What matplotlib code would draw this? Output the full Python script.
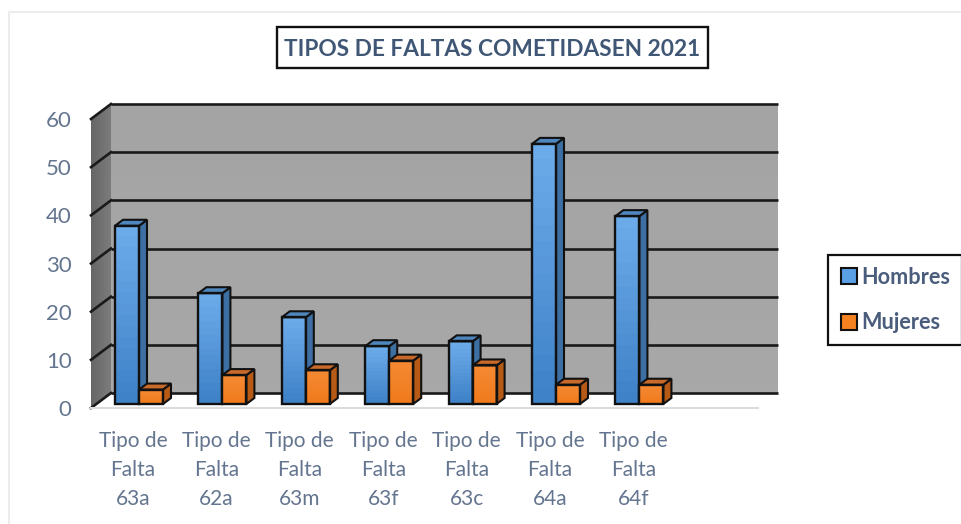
import numpy as np
import matplotlib
matplotlib.use('Agg')
import matplotlib.pyplot as plt
from matplotlib.patches import Polygon, Rectangle
from matplotlib.lines import Line2D
from matplotlib.colors import LinearSegmentedColormap

plt.rcParams['font.family'] = ['Lato', 'DejaVu Sans']

categorias = ['Tipo de\nFalta\n63a', 'Tipo de\nFalta\n62a', 'Tipo de\nFalta\n63m', 'Tipo de\nFalta\n63f',
              'Tipo de\nFalta\n63c', 'Tipo de\nFalta\n64a', 'Tipo de\nFalta\n64f']
hombres = [37, 23, 18, 12, 13, 54, 39]
mujeres = [3, 6, 7, 9, 8, 4, 4]
y_ticks = [0, 10, 20, 30, 40, 50, 60]
titulo = 'TIPOS DE FALTAS COMETIDASEN 2021'

W, H = 962, 524
TEXTO = '#64758f'

fig = plt.figure(figsize=(W / 100, H / 100), dpi=100)
# axes covers the front edge of the 3d box, x in group units
ax = fig.add_axes([91 / W, (H - 408) / H, 667 / W, 289 / H])
px_x = 83.4
py = 289 / 60
ax.patch.set_visible(False)
for s in ax.spines.values():
    s.set_visible(False)


def dx(p):
    return p / px_x


def dy(p):
    return p / py


# walls
x0 = -(139 - 91) / px_x
x_back = x0 + dx(20)
x_end = x0 + dx(687)
wall_up = dy(15)
ax.imshow(np.linspace(0, 1, 32).reshape(-1, 1), extent=(x_back, x_end, wall_up, 60 + wall_up), aspect='auto',
          cmap=LinearSegmentedColormap.from_list('w', ['#a4a4a4', '#a8a8a8']), zorder=1, clip_on=False)
lado = ax.imshow(np.linspace(0, 1, 32).reshape(1, -1), extent=(x0, x_back, 0, 60 + wall_up), aspect='auto',
                 cmap=LinearSegmentedColormap.from_list('s', ['#666666', '#7c7c7c']), zorder=1)
ax.set_xlim(x0, (758 - 139) / px_x)
ax.set_ylim(0, 60)
lado.set_clip_on(True)
lado.set_clip_box(fig.bbox)
lado.set_clip_path(Polygon([(x0, 0), (x_back, wall_up), (x_back, 60 + wall_up), (x0, 60)], transform=ax.transData))

for t in y_ticks:
    ax.plot([x_back, x_end], [t + wall_up, t + wall_up], color='#1a1a1a', lw=1.9, zorder=2, clip_on=False, solid_capstyle='butt')
    ax.plot([x0, x_back], [t, t + wall_up], color='#1a1a1a', lw=1.9, zorder=2, clip_on=False)
ax.plot([x0, x_end - dx(20)], [0, 0], color='#dcdcdc', lw=1.5, zorder=2, clip_on=False)


def barra(x, v, ancho, arriba, abajo, lado_c, tope_c, z):
    base = dy(4)
    ddx, ddy = dx(8), dy(6)
    izq, der = x, x + ancho
    cm = LinearSegmentedColormap.from_list('b', [abajo, arriba])
    ax.imshow(np.linspace(0, 1, 16).reshape(-1, 1), origin='lower', extent=(izq, der, base, base + v), aspect='auto', cmap=cm, zorder=z)
    ax.add_patch(Rectangle((izq, base), ancho, v, fill=False, ec='#111111', lw=1.7, zorder=z + 0.2))
    ax.add_patch(Polygon([(der, base), (der + ddx, base + ddy), (der + ddx, base + v + ddy), (der, base + v)], fc=lado_c, ec='#111111', lw=1.5, zorder=z + 0.1))
    ax.add_patch(Polygon([(izq, base + v), (der, base + v), (der + ddx, base + v + ddy), (izq + ddx, base + v + ddy)], fc=tope_c, ec='#111111', lw=1.5, zorder=z + 0.1))


ancho = 24 / px_x
for i in range(len(categorias)):
    barra(i - ancho, hombres[i], ancho, '#6cabea', '#3f82c8', '#3d6fa3', '#4f86bd', 3)
    barra(i, mujeres[i], ancho, '#f58a34', '#f07a1c', '#b65a16', '#c9692a', 4)
ax.set_xlim(x0, (758 - 139) / px_x)
ax.set_ylim(0, 60)

ax.set_xticks([i - dx(6) for i in range(len(categorias))])
ax.set_xticklabels(categorias)
ax.set_yticks(y_ticks)
ax.tick_params(axis='both', length=0, labelcolor=TEXTO)
ax.tick_params(axis='y', labelsize=16, pad=14)
ax.tick_params(axis='x', labelsize=15, pad=16.5)
for lab in ax.get_xticklabels():
    lab.set_linespacing(1.58)
    lab.set_horizontalalignment('center')

# faint frame of the original picture
fig.add_artist(Line2D([9 / W, 9 / W, 1], [0, 1 - 12 / H, 1 - 12 / H], color='#ececec', lw=1.5))

fig.add_artist(Rectangle((277 / W, 1 - 68 / H), 431 / W, 41 / H, fc='white', ec='#111111', lw=1.7, transform=fig.transFigure))
fig.text(492 / W, 1 - 49 / H, titulo, ha='center', va='center', fontsize=16.3, fontweight='bold', color='#3f5675')

handles = [Line2D([], [], ls='', marker='s', ms=11, mfc='#5aa0e4', mec='#111111', mew=1.5),
           Line2D([], [], ls='', marker='s', ms=11, mfc='#f58220', mec='#111111', mew=1.5)]
leg = fig.legend(handles, ['Hombres', 'Mujeres'], loc='center', bbox_to_anchor=(895 / W, 1 - 300 / H), fontsize=15.6, frameon=True,
                 fancybox=False, edgecolor='#111111', framealpha=1, labelspacing=1.15, handletextpad=0.18, borderpad=0.55, handlelength=0.8,
                 borderaxespad=0)
leg.get_frame().set_linewidth(1.6)
for t in leg.get_texts():
    t.set_color('#4a5d7c')
    t.set_fontweight('bold')

fig.savefig('out.png', dpi=100)
